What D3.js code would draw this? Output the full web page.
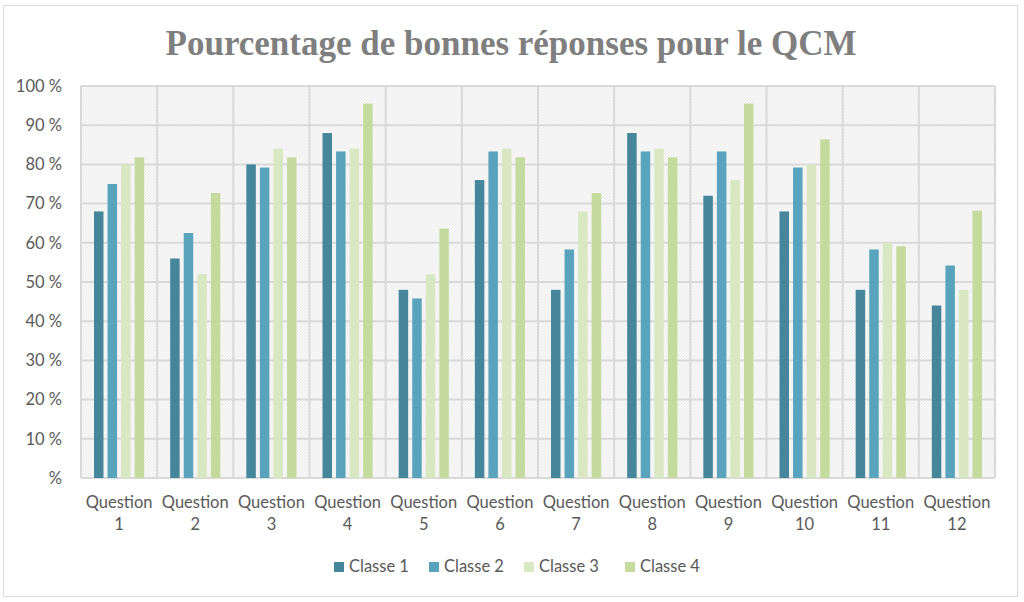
<!DOCTYPE html>
<html>
<head>
<meta charset="utf-8">
<script src="https://cdn.jsdelivr.net/npm/d3@7"></script>
<style>
  body { margin: 0; background: #fff; }
  text { font-family: Lato, "Open Sans", sans-serif; fill: #595959; }
</style>
</head>
<body>
<div id="chart"></div>
<script>
const svgWidth = 1024;
const svgHeight = 602;

// plot area
const margin = { top: 86, right: 28, bottom: 124, left: 81 };
const width = 995 - margin.left;
const height = 478 - margin.top;

// data
const questions = ["1", "2", "3", "4", "5", "6", "7", "8", "9", "10", "11", "12"];
const classes = ["Classe 1", "Classe 2", "Classe 3", "Classe 4"];
const classe1 = [68, 56, 80, 88, 48, 76, 48, 88, 72, 68, 48, 44];
const classe2 = [75, 62.5, 79.2, 83.3, 45.8, 83.3, 58.3, 83.3, 83.3, 79.2, 58.3, 54.2];
const classe3 = [80, 52, 84, 84, 52, 84, 68, 84, 76, 80, 60, 48];
const classe4 = [81.8, 72.7, 81.8, 95.5, 63.6, 81.8, 72.7, 81.8, 95.5, 86.4, 59.1, 68.2];
const yTicks = [0, 10, 20, 30, 40, 50, 60, 70, 80, 90, 100];
const colors = ["#46869a", "#59a4bc", "#d9e7c2", "#c5db9e"];

const series = [classe1, classe2, classe3, classe4];

const svg = d3.select("#chart")
  .append("svg")
  .attr("width", svgWidth)
  .attr("height", svgHeight);

// outer chart frame
svg.append("rect")
  .attr("x", 3.5).attr("y", 5.5)
  .attr("width", 1014).attr("height", 591)
  .attr("fill", "#fff")
  .attr("stroke", "#d9d9d9");

// fine hatch for the plot background
const defs = svg.append("defs");
const pat = defs.append("pattern")
  .attr("id", "hatch")
  .attr("patternUnits", "userSpaceOnUse")
  .attr("width", 3).attr("height", 3);
pat.append("rect").attr("width", 3).attr("height", 3).attr("fill", "#f7f7f7");
pat.append("path")
  .attr("d", "M-1,1 l2,-2 M0,3 l3,-3 M2,4 l2,-2")
  .attr("stroke", "#ececec")
  .attr("stroke-width", 0.8);

svg.append("text")
  .attr("x", 511)
  .attr("y", 55)
  .attr("text-anchor", "middle")
  .style("font-family", "'Liberation Serif', 'DejaVu Serif', serif")
  .style("font-weight", "bold")
  .style("font-size", "35px")
  .style("fill", "#7f7f7f")
  .text("Pourcentage de bonnes réponses pour le QCM");

const chartGroup = svg.append("g")
  .attr("transform", `translate(${margin.left}, ${margin.top})`);

// scales
const x0 = d3.scaleBand().domain(questions).range([0, width]).padding(0);
const x1 = d3.scaleBand().domain(classes)
  .range([13, x0.bandwidth() - 13])
  .paddingInner(0.3);
const y = d3.scaleLinear().domain([0, 100]).range([height, 0]);

chartGroup.append("rect")
  .attr("width", width).attr("height", height)
  .attr("fill", "url(#hatch)");

// horizontal gridlines
chartGroup.append("g")
  .selectAll("line")
  .data(yTicks)
  .join("line")
  .attr("x1", 0).attr("x2", width)
  .attr("y1", d => y(d)).attr("y2", d => y(d))
  .attr("stroke", "#d9d9d9")
  .attr("stroke-width", 2);

// vertical gridlines at category boundaries
const bounds = questions.map(q => x0(q)).concat([width]);
chartGroup.append("g")
  .selectAll("line")
  .data(bounds)
  .join("line")
  .attr("x1", d => d).attr("x2", d => d)
  .attr("y1", 0).attr("y2", height)
  .attr("stroke", "#d9d9d9")
  .attr("stroke-width", 2);

// y axis labels
const leftAxis = d3.axisLeft(y)
  .tickValues(yTicks)
  .tickSize(0)
  .tickPadding(19)
  .tickFormat(d => d === 0 ? "%" : d + " %");
const yAxis = chartGroup.append("g").call(leftAxis);
yAxis.select(".domain").remove();
yAxis.selectAll("text")
  .style("font-size", "16.5px")
  .style("fill", "#595959")
  .style("font-family", "Lato, 'Open Sans', sans-serif");

// bars
const groups = chartGroup.selectAll("g.q")
  .data(questions)
  .join("g")
  .attr("class", "q")
  .attr("transform", d => `translate(${x0(d)},0)`);

groups.selectAll("rect")
  .data((q, i) => classes.map((c, k) => ({ c: c, v: series[k][i], k: k })))
  .join("rect")
  .attr("x", d => x1(d.c))
  .attr("width", x1.bandwidth())
  .attr("y", d => y(d.v))
  .attr("height", d => y(0) - y(d.v))
  .attr("fill", d => colors[d.k]);

// category labels on two lines
const xLabels = chartGroup.append("g")
  .attr("transform", `translate(0, ${height})`);
const lbl = xLabels.selectAll("text")
  .data(questions)
  .join("text")
  .attr("x", d => x0(d) + x0.bandwidth() / 2)
  .attr("y", 30)
  .attr("text-anchor", "middle")
  .style("font-size", "16.5px");
lbl.append("tspan").attr("x", d => x0(d) + x0.bandwidth() / 2).text("Question");
lbl.append("tspan").attr("x", d => x0(d) + x0.bandwidth() / 2).attr("dy", 22).text(d => d);

// legend
const legendX = [334, 429, 524, 625];
const legend = svg.append("g")
  .selectAll("g")
  .data(classes)
  .join("g")
  .attr("transform", (d, i) => `translate(${legendX[i]}, 562)`);
legend.append("rect")
  .attr("width", 10).attr("height", 10)
  .attr("fill", (d, i) => colors[i]);
legend.append("text")
  .attr("x", 15).attr("y", 10)
  .style("font-size", "16.5px")
  .text(d => d);
</script>
</body>
</html>
